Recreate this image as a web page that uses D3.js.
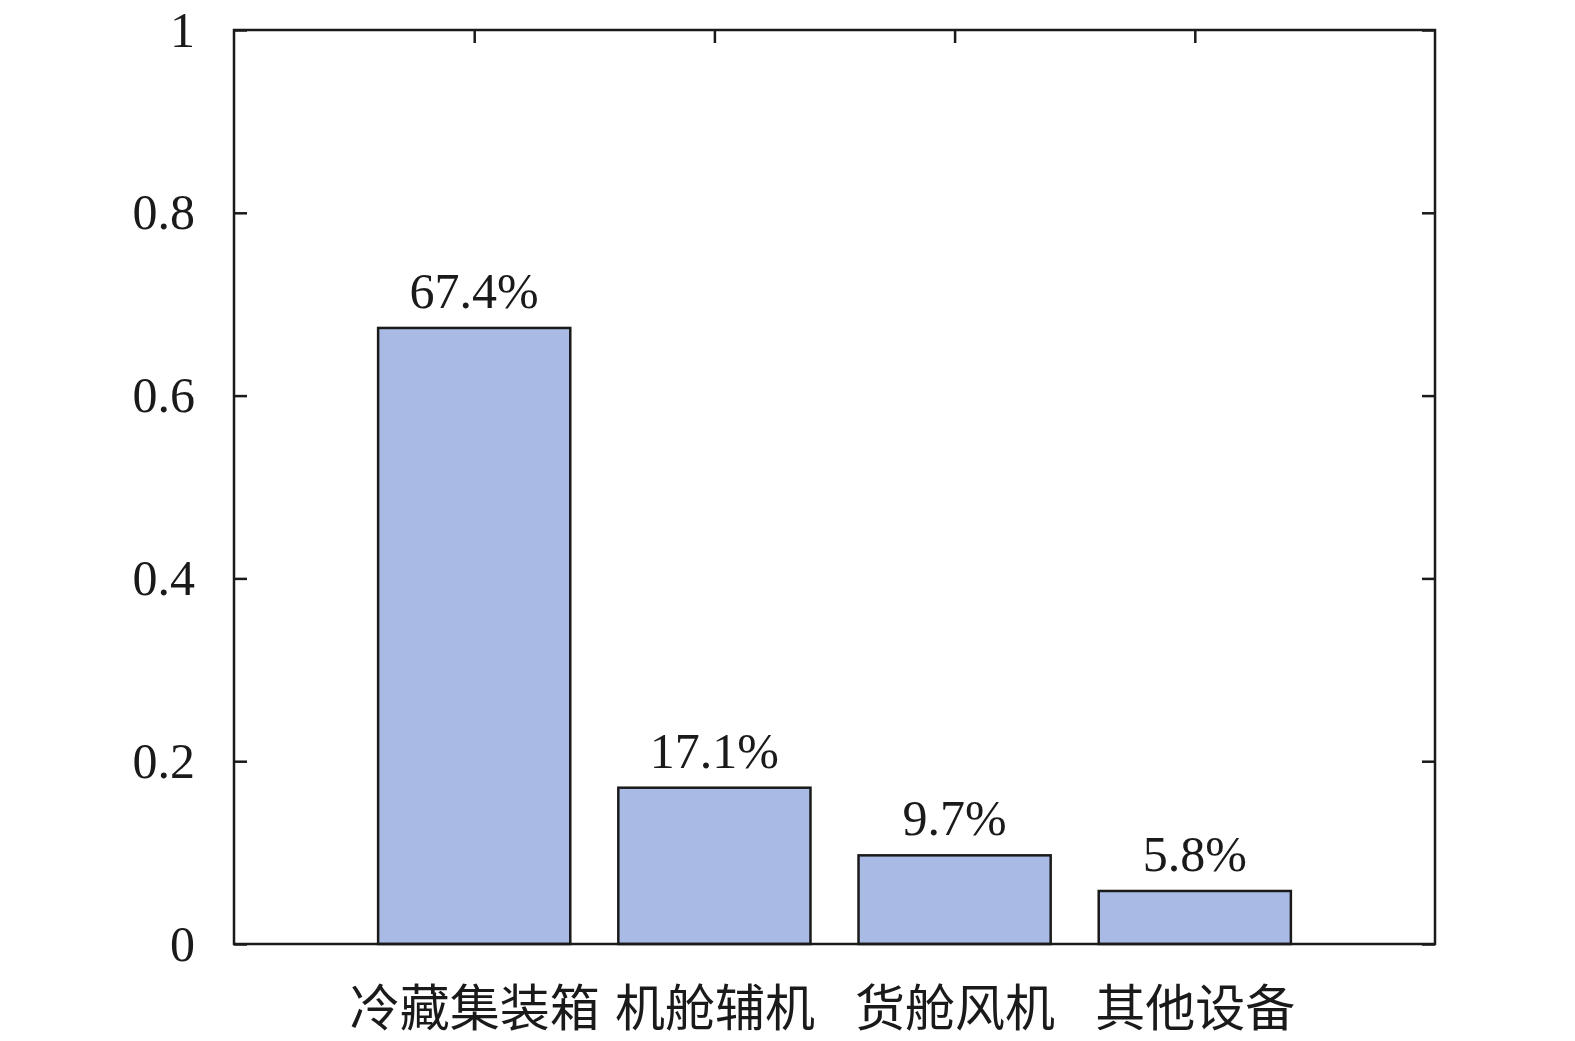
<!DOCTYPE html>
<html>
<head>
<meta charset="utf-8">
<script src="https://cdn.jsdelivr.net/npm/d3@7"></script>
<style>
  html, body { margin: 0; padding: 0; background: #fff; overflow: hidden; }
  svg { display: block; }
</style>
</head>
<body>
<div id="chart"></div>
<script>
// data
const categories = ["冷藏集装箱", "机舱辅机", "货舱风机", "其他设备"];
const shares = [0.674, 0.171, 0.097, 0.058];
const shareLabels = ["67.4%", "17.1%", "9.7%", "5.8%"];
const yTicks = [0, 0.2, 0.4, 0.6, 0.8, 1];

const width = 1575, height = 1041;
const margin = { top: 30, right: 140, bottom: 97, left: 234 };
const innerW = width - margin.left - margin.right;
const innerH = height - margin.top - margin.bottom;

const serif = "'Liberation Serif', 'Times New Roman', serif";
const cjk = "'Noto Sans CJK SC', sans-serif";

const svg = d3.select("#chart").append("svg")
  .attr("viewBox", `0 0 ${width} ${height}`)
  .attr("preserveAspectRatio", "none")
  .style("width", "100vw")
  .style("height", "100vh");

const g = svg.append("g")
  .attr("transform", `translate(${margin.left},${margin.top})`);

// categories sit at 1..4 on a 0..5 axis
const x = d3.scaleLinear().domain([0, 5]).range([0, innerW]);
const y = d3.scaleLinear().domain([0, 1]).range([innerH, 0]);
const slot = x(1) - x(0);
const barW = slot * 0.8;

// axes first (ticks inward), so bars hide the bottom ticks
const tickLen = 13;
const catTicks = categories.map((c, i) => i + 1);

const axLeft = g.append("g").call(d3.axisLeft(y).tickValues(yTicks).tickSize(-tickLen).tickPadding(tickLen + 26).tickFormat(d3.format("")));
const axRight = g.append("g").attr("transform", `translate(${innerW},0)`)
  .call(d3.axisRight(y).tickValues(yTicks).tickSize(-tickLen).tickFormat(""));
const axTop = g.append("g").call(d3.axisTop(x).tickValues(catTicks).tickSize(-tickLen).tickFormat(""));
const axBottom = g.append("g").attr("transform", `translate(0,${innerH})`)
  .call(d3.axisBottom(x).tickValues(catTicks).tickSize(-tickLen).tickPadding(tickLen + 33).tickFormat((d, i) => categories[i]));

[axLeft, axRight, axTop, axBottom].forEach(a => {
  a.select(".domain").remove();
  a.selectAll("line").attr("stroke", "#1a1a1a").attr("stroke-width", 2.5);
});

axLeft.selectAll("text")
  .attr("font-family", serif)
  .attr("font-size", 50)
  .attr("fill", "#1a1a1a");

axBottom.selectAll("text")
  .attr("font-family", cjk)
  .attr("font-size", 50)
  .attr("fill", "#1a1a1a");

// bars
g.selectAll("rect.bar")
  .data(shares)
  .join("rect")
  .attr("class", "bar")
  .attr("x", (d, i) => x(i + 1) - barW / 2)
  .attr("y", d => y(d))
  .attr("width", barW)
  .attr("height", d => innerH - y(d))
  .attr("fill", "#a9bae5")
  .attr("stroke", "#1a1a1a")
  .attr("stroke-width", 2.5);

// value labels
g.selectAll("text.val")
  .data(shares)
  .join("text")
  .attr("class", "val")
  .attr("x", (d, i) => x(i + 1))
  .attr("y", d => y(d) - 20)
  .attr("text-anchor", "middle")
  .attr("font-family", serif)
  .attr("font-size", 50)
  .attr("fill", "#1a1a1a")
  .text((d, i) => shareLabels[i]);

// frame
g.append("rect")
  .attr("x", 0).attr("y", 0)
  .attr("width", innerW).attr("height", innerH)
  .attr("fill", "none")
  .attr("stroke", "#1a1a1a")
  .attr("stroke-width", 2.5);
</script>
</body>
</html>
